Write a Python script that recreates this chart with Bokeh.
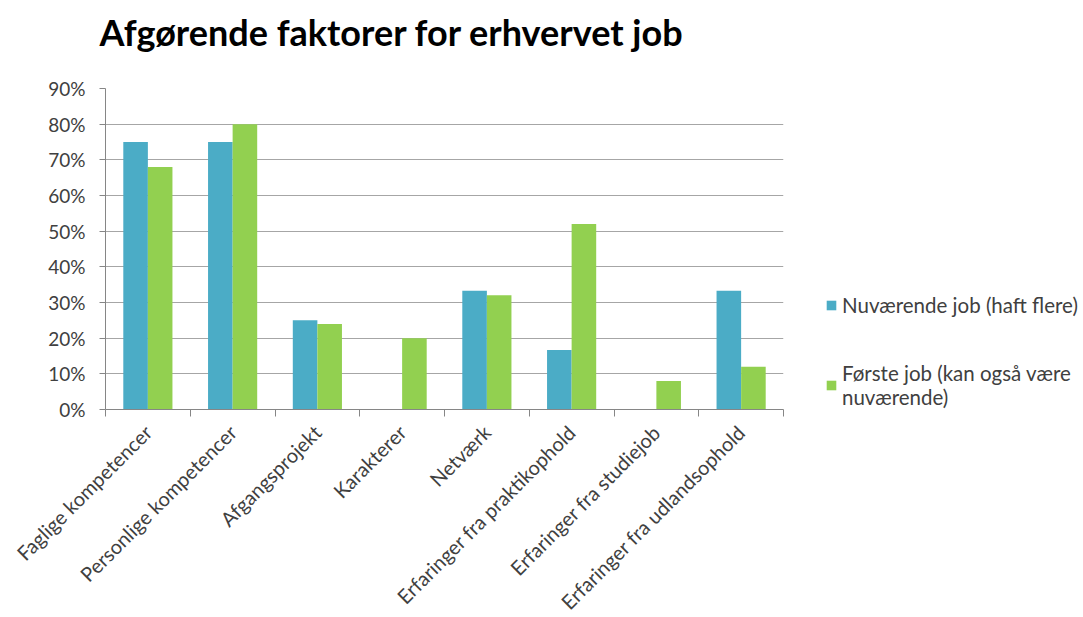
from math import pi
from bokeh.plotting import figure
from bokeh.models import (Range1d, FixedTicker, NumeralTickFormatter, Legend, LegendItem)
from bokeh.embed import file_html
from bokeh.resources import INLINE

categories = ["Faglige kompetencer", "Personlige kompetencer", "Afgangsprojekt", "Karakterer",
              "Netværk", "Erfaringer fra praktikophold", "Erfaringer fra studiejob",
              "Erfaringer fra udlandsophold"]
nuvaerende = [0.75, 0.75, 0.25, 0.0, 0.333, 0.167, 0.0, 0.333]
foerste = [0.68, 0.80, 0.24, 0.20, 0.32, 0.52, 0.08, 0.12]
series_names = ["Nuværende job (haft flere)", "Første job (kan også være\nnuværende)"]
y_ticks = [0.0, 0.1, 0.2, 0.3, 0.4, 0.5, 0.6, 0.7, 0.8, 0.9]
title_text = "Afgørende faktorer for erhvervet job"

FONT = "Lato"
BLUE = "#4BACC6"
GREEN = "#92D050"

n = len(categories)
centers = [i + 0.5 for i in range(n)]
bounds = [float(i) for i in range(n + 1)]
bw = 0.29

p = figure(frame_width=678, frame_height=321, output_backend="svg", toolbar_location=None,
           x_range=Range1d(0, n), y_range=Range1d(0, 0.9),
           min_border_left=105, min_border_top=88, min_border_right=292, min_border_bottom=205)

p.title.text = title_text
p.title.text_font = FONT
p.title.text_font_size = "36px"
p.title.text_font_style = "bold"
p.title.text_color = "#000000"
p.title.offset = -6
p.title.vertical_align = "bottom"
p.title.standoff = 0
p.title.padding = {"left": 0, "right": 0, "top": 0, "bottom": 35}

p.outline_line_color = None
p.background_fill_color = "white"
p.border_fill_color = "white"

r1 = p.vbar(x=[c - bw / 2 for c in centers], top=nuvaerende, width=bw, color=BLUE, line_color=None)
r2 = p.vbar(x=[c + bw / 2 for c in centers], top=foerste, width=bw, color=GREEN, line_color=None)

# x axis
xa = p.xaxis[0]
xa.ticker = FixedTicker(ticks=centers, minor_ticks=bounds)
xa.major_label_overrides = {c: lab for c, lab in zip(centers, categories)}
xa.major_label_orientation = pi / 4
xa.major_tick_out = 0
xa.major_tick_in = 0
xa.minor_tick_out = 7
xa.minor_tick_in = 0
xa.minor_tick_line_color = "#868686"
xa.axis_line_color = "#868686"
xa.major_label_text_font = FONT
xa.major_label_text_font_size = "20px"
xa.major_label_text_color = "#404040"
xa.major_label_standoff = 12

# y axis
ya = p.yaxis[0]
ya.ticker = FixedTicker(ticks=y_ticks, minor_ticks=[])
ya.formatter = NumeralTickFormatter(format="0%")
ya.major_tick_out = 6
ya.major_tick_in = 0
ya.minor_tick_out = 0
ya.major_tick_line_color = "#868686"
ya.axis_line_color = "#868686"
ya.major_label_text_font = FONT
ya.major_label_text_font_size = "19px"
ya.major_label_text_color = "#404040"
ya.major_label_standoff = 14

p.xgrid.grid_line_color = None
p.ygrid.grid_line_color = "#a6a6a6"
p.ygrid.ticker = FixedTicker(ticks=y_ticks)

legend = Legend(items=[LegendItem(label=series_names[0], renderers=[r1]),
                       LegendItem(label=series_names[1], renderers=[r2])],
                location=(42, 0), border_line_color=None, background_fill_alpha=0,
                label_text_font=FONT, label_text_font_size="20.5px", label_text_color="#404040",
                glyph_width=12, glyph_height=12, spacing=44, padding=0, margin=0,
                label_standoff=5)
p.add_layout(legend, "right")

open("out.html", "w").write(file_html(p, INLINE))
